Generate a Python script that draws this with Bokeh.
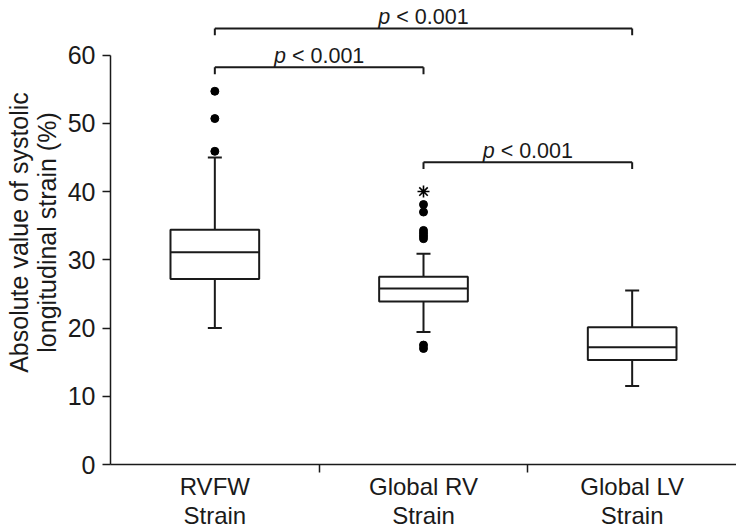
from bokeh.plotting import figure
from bokeh.models import Range1d, FixedTicker
from bokeh.core.properties import value
from bokeh.embed import file_html
from bokeh.resources import INLINE

# ---- data ----
categories = ["RVFW\nStrain", "Global RV\nStrain", "Global LV\nStrain"]
lower_whisker = [20.0, 19.4, 11.5]
q1 = [27.2, 23.9, 15.3]
median = [31.1, 25.8, 17.2]
q3 = [34.4, 27.5, 20.1]
upper_whisker = [45.0, 30.9, 25.5]

outlier_cat = [0, 0, 0, 1, 1, 1, 1, 1, 1, 1, 1]
outlier_val = [45.9, 50.7, 54.7, 17.0, 17.5, 33.1, 33.5, 33.9, 34.3, 37.0, 38.1]
extreme_cat = [1]
extreme_val = [40.0]

bracket_from = [0, 0, 1]
bracket_to = [1, 2, 2]
bracket_y = [58.2, 63.9, 44.3]
bracket_text = ["< 0.001", "< 0.001", "< 0.001"]

y_ticks = [0, 10, 20, 30, 40, 50, 60]

# ---- styling ----
FONT = "Liberation Sans"
LC = "#1a1a1a"
BOX_W = 0.425
TICK_DROP = 1.0
TEXT_GAP = 1.7

pos = [i + 0.5 for i in range(len(categories))]

p = figure(width=736, height=532, output_backend="svg", toolbar_location=None,
           x_range=Range1d(0, len(categories)), y_range=Range1d(0, 68.0),
           min_border_left=110, min_border_right=0, min_border_top=0, min_border_bottom=65)
p.outline_line_color = None
p.xgrid.visible = False
p.ygrid.visible = False
p.background_fill_color = "white"
p.border_fill_color = "white"

# whiskers
p.segment(x0=pos, y0=q3, x1=pos, y1=upper_whisker, line_color=LC, line_width=2)
p.segment(x0=pos, y0=q1, x1=pos, y1=lower_whisker, line_color=LC, line_width=2)
p.scatter(x=pos, y=upper_whisker, marker="dash", size=14, line_color=LC, line_width=2)
p.scatter(x=pos, y=lower_whisker, marker="dash", size=14, line_color=LC, line_width=2)

# boxes
p.vbar(x=pos, width=BOX_W, top=q3, bottom=q1, fill_color="white", line_color=LC, line_width=2)
p.vbar(x=pos, width=BOX_W, top=median, bottom=median, fill_color=None, line_color=LC, line_width=2)

# outliers
p.scatter(x=[pos[c] for c in outlier_cat], y=outlier_val, marker="circle", size=8,
          fill_color="black", line_color="black")
p.scatter(x=[pos[c] for c in extreme_cat], y=extreme_val, marker="asterisk", size=12,
          line_color="black", line_width=1.6)

# significance brackets
bx0 = [pos[a] for a in bracket_from]
bx1 = [pos[b] for b in bracket_to]
p.segment(x0=bx0, y0=bracket_y, x1=bx1, y1=bracket_y, line_color=LC, line_width=2)
p.segment(x0=bx0, y0=bracket_y, x1=bx0, y1=[y - TICK_DROP for y in bracket_y], line_color=LC, line_width=2)
p.segment(x0=bx1, y0=bracket_y, x1=bx1, y1=[y - TICK_DROP for y in bracket_y], line_color=LC, line_width=2)

fs = 21.5
w_p, w_sp, w_rest = 0.556 * fs, 0.278 * fs, 3.364 * fs
total = w_p + w_sp + w_rest
mid = [(a + b) / 2 for a, b in zip(bx0, bx1)]
ty = [y + TEXT_GAP for y in bracket_y]
p.text(x=mid, y=ty, text=["p"] * len(mid), x_offset=-total / 2,
       text_font=value(FONT), text_font_size=f"{fs}px", text_font_style="italic",
       text_align="left", text_baseline="alphabetic", text_color=LC)
p.text(x=mid, y=ty, text=bracket_text, x_offset=-total / 2 + w_p + w_sp,
       text_font=value(FONT), text_font_size=f"{fs}px",
       text_align="left", text_baseline="alphabetic", text_color=LC)

# axes
xa = p.xaxis[0]
xa.ticker = FixedTicker(ticks=pos, minor_ticks=list(range(1, len(categories))))
xa.major_label_overrides = {pv: c for pv, c in zip(pos, categories)}
xa.major_tick_line_color = None
xa.major_tick_in = 0
xa.major_tick_out = 0
xa.minor_tick_line_color = LC
xa.minor_tick_line_width = 1.5
xa.minor_tick_in = 0
xa.minor_tick_out = 8
xa.axis_line_color = LC
xa.axis_line_width = 1.5
xa.major_label_text_font = FONT
xa.major_label_text_font_size = "24px"
xa.major_label_text_line_height = 1.1
xa.major_label_text_color = LC
xa.major_label_standoff = 0

ya = p.yaxis[0]
ya.ticker = FixedTicker(ticks=y_ticks)
ya.bounds = (0, 60)
ya.minor_tick_line_color = None
ya.major_tick_in = 0
ya.major_tick_out = 8
ya.major_tick_line_color = LC
ya.major_tick_line_width = 1.5
ya.axis_line_color = LC
ya.axis_line_width = 1.5
ya.major_label_text_font = FONT
ya.major_label_text_font_size = "25px"
ya.major_label_text_color = LC
ya.major_label_standoff = 7
ya.axis_label = "Absolute value of systolic\nlongitudinal strain (%)"
ya.axis_label_text_font = FONT
ya.axis_label_text_font_size = "25px"
ya.axis_label_text_font_style = "normal"
ya.axis_label_text_line_height = 1.0
ya.axis_label_text_color = LC
ya.axis_label_standoff = 4

open("out.html", "w").write(file_html(p, INLINE))
